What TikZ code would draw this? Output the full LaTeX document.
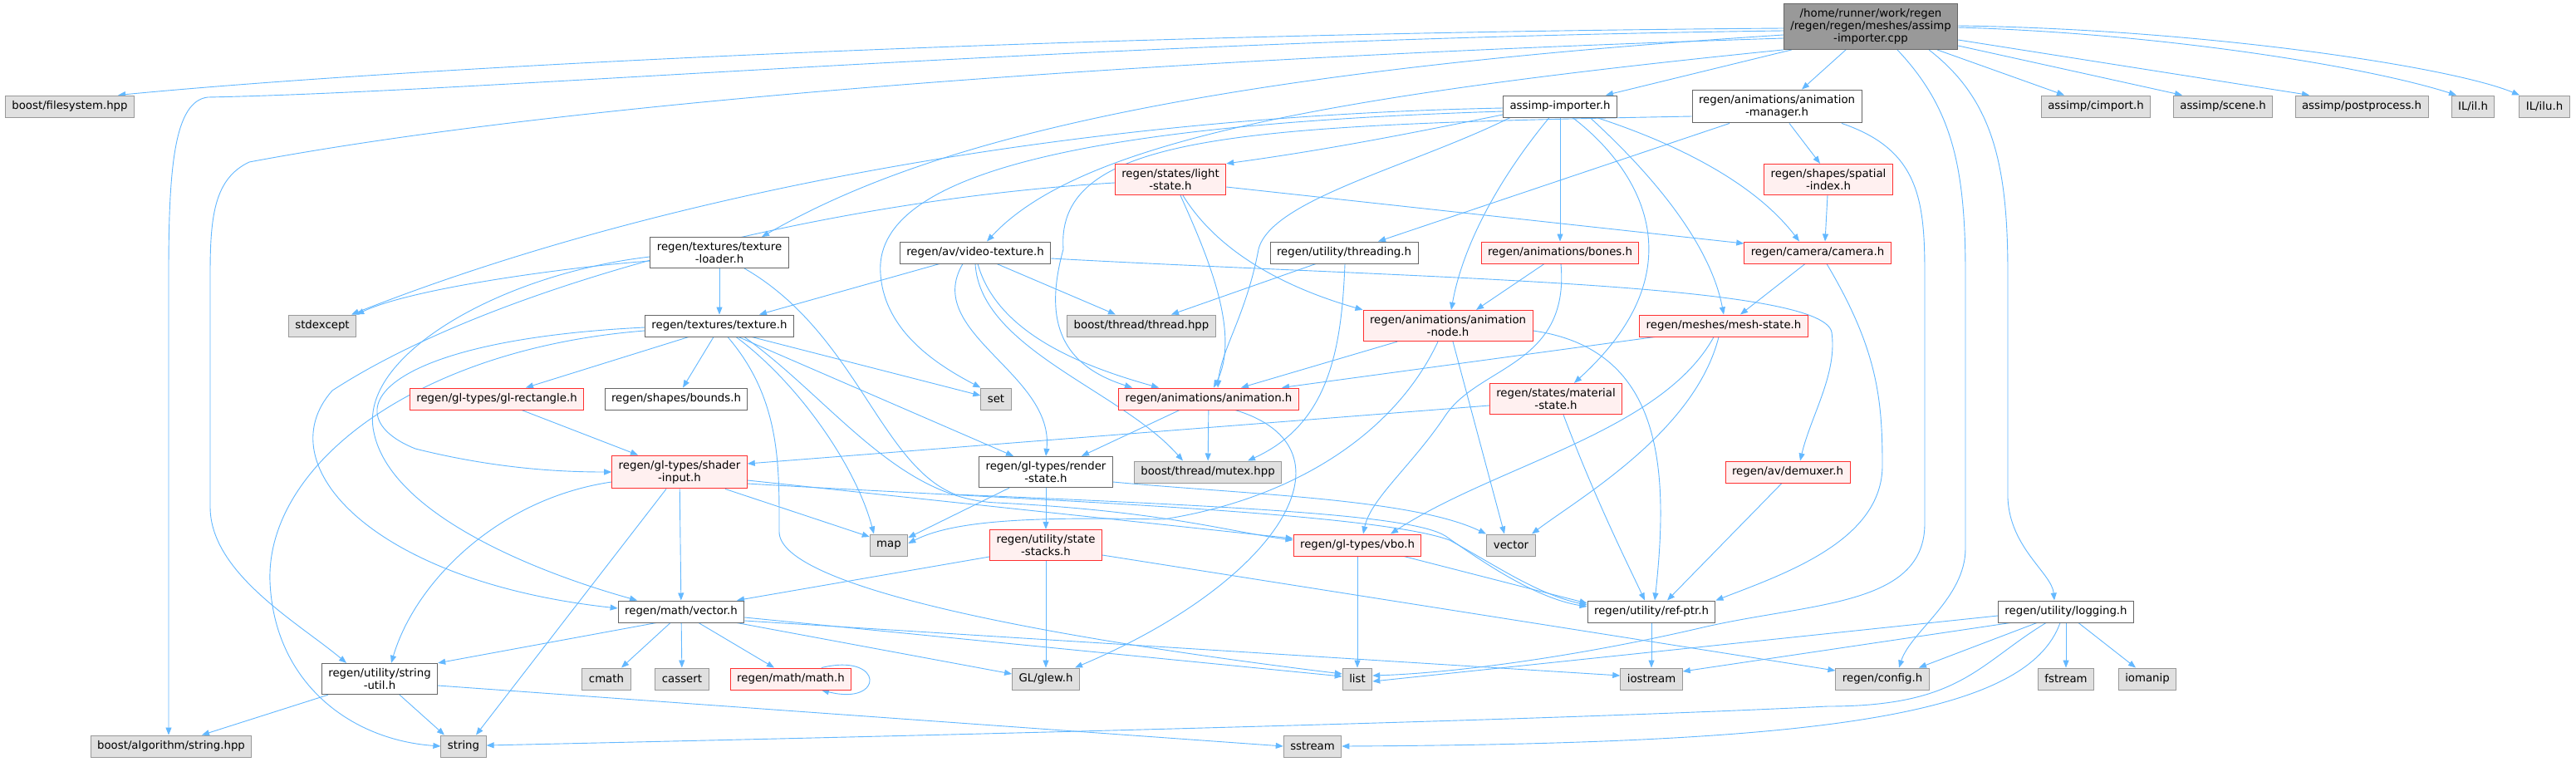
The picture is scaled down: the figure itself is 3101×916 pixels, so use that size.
\documentclass[tikz,border=0pt]{standalone}
\usepackage{fontspec}
\usetikzlibrary{arrows.meta,backgrounds}
\newfontfamily\graphfont{DejaVu Sans}
\definecolor{edgeblue}{HTML}{63B8FF}
\definecolor{boxgrey}{HTML}{666666}
\definecolor{sysfill}{HTML}{E0E0E0}
\definecolor{sysline}{HTML}{999999}
\definecolor{truncfill}{HTML}{FFF0F0}
\definecolor{truncline}{HTML}{FF3030}
\definecolor{rootfill}{HTML}{999999}
\newcommand{\graphtext}{\graphfont\fontsize{13.3}{15}\selectfont}

\begin{document}
\begin{tikzpicture}[x=1pt,y=-1pt,font=\graphtext,
  hbox/.style={draw=boxgrey,fill=white,line width=1pt,inner xsep=8pt,inner ysep=6pt,minimum height=26pt,align=center},
  sysbox/.style={hbox,draw=sysline,fill=sysfill},
  redbox/.style={hbox,draw=truncline,fill=truncfill},
  rootbox/.style={hbox,draw=boxgrey,fill=rootfill},
  dep/.style={draw=edgeblue,line width=0.9pt,-{Triangle[length=9pt,width=7pt]}}]
\useasboundingbox (0,0) rectangle (3101,916);
\node[rootbox] (cpp) at (2252,32) {/home/runner/work/regen\\/regen/regen/meshes/assimp\\-importer.cpp};
\node[sysbox] (fs) at (84,128) {boost/filesystem.hpp};
\node[hbox] (aimp) at (1878,128) {assimp-importer.h};
\node[hbox] (amgr) at (2139,128) {regen/animations/animation\\-manager.h};
\node[sysbox] (cimp) at (2523,128) {assimp/cimport.h};
\node[sysbox] (scene) at (2676,128) {assimp/scene.h};
\node[sysbox] (post) at (2843,128) {assimp/postprocess.h};
\node[sysbox] (il) at (2977,128) {IL/il.h};
\node[sysbox] (ilu) at (3063,128) {IL/ilu.h};
\node[redbox] (light) at (1409,216) {regen/states/light\\-state.h};
\node[redbox] (spatial) at (2201,216) {regen/shapes/spatial\\-index.h};
\node[hbox] (tload) at (866,304) {regen/textures/texture\\-loader.h};
\node[hbox] (vtex) at (1174,304) {regen/av/video-texture.h};
\node[hbox] (thr) at (1618,304) {regen/utility/threading.h};
\node[redbox] (bones) at (1878,304) {regen/animations/bones.h};
\node[redbox] (cam) at (2188,304) {regen/camera/camera.h};
\node[sysbox] (stdex) at (388,392) {stdexcept};
\node[hbox] (tex) at (866,392) {regen/textures/texture.h};
\node[sysbox] (bthr) at (1374,392) {boost/thread/thread.hpp};
\node[redbox] (anode) at (1743,392) {regen/animations/animation\\-node.h};
\node[redbox] (mesh) at (2075,392) {regen/meshes/mesh-state.h};
\node[redbox] (rect) at (598,480) {regen/gl-types/gl-rectangle.h};
\node[hbox] (bounds) at (814,480) {regen/shapes/bounds.h};
\node[sysbox] (set) at (1199,480) {set};
\node[redbox] (anim) at (1455,480) {regen/animations/animation.h};
\node[redbox] (mat) at (1873,480) {regen/states/material\\-state.h};
\node[redbox] (sin) at (818,568) {regen/gl-types/shader\\-input.h};
\node[hbox] (rs) at (1259,568) {regen/gl-types/render\\-state.h};
\node[sysbox] (mutex) at (1454,568) {boost/thread/mutex.hpp};
\node[redbox] (demux) at (2152,568) {regen/av/demuxer.h};
\node[sysbox] (map) at (1070,656) {map};
\node[redbox] (stack) at (1259,656) {regen/utility/state\\-stacks.h};
\node[redbox] (vbo) at (1634,656) {regen/gl-types/vbo.h};
\node[sysbox] (vec) at (1819,656) {vector};
\node[hbox] (vmath) at (820,736) {regen/math/vector.h};
\node[hbox] (ref) at (1988,736) {regen/utility/ref-ptr.h};
\node[hbox] (log) at (2487,736) {regen/utility/logging.h};
\node[hbox] (sutil) at (457,817) {regen/utility/string\\-util.h};
\node[sysbox] (cmath) at (730,817) {cmath};
\node[sysbox] (cassert) at (821,817) {cassert};
\node[redbox] (mathh) at (952,817) {regen/math/math.h};
\node[sysbox] (glew) at (1259,817) {GL/glew.h};
\node[sysbox] (list) at (1634,817) {list};
\node[sysbox] (iostr) at (1988,817) {iostream};
\node[sysbox] (conf) at (2266,817) {regen/config.h};
\node[sysbox] (fstr) at (2487,817) {fstream};
\node[sysbox] (ioman) at (2585,817) {iomanip};
\node[sysbox] (bas) at (206,898) {boost/algorithm/string.hpp};
\node[sysbox] (str) at (558,898) {string};
\node[sysbox] (sstr) at (1580,898) {sstream};
\begin{pgfonlayer}{background}
\fill[white] (0,0) rectangle (3101,916);
% includes of the source file
\draw[dep] ([yshift=-2pt]cpp.west) .. controls (1300,40) and (500,80) .. ([xshift=-20pt]fs.north east);
\draw[dep] ([yshift=-5pt]cpp.west) .. controls (1300,48) and (600,110) .. (250,117) .. controls (210,122) and (203,200) .. (203,330) -- ([xshift=-3pt]bas.north);
\draw[dep] ([yshift=-14pt]cpp.west) .. controls (1400,70) and (700,120) .. (300,195) .. controls (258,215) and (253,260) .. (253,330) -- (253,610) .. controls (253,690) and (360,750) .. ([xshift=-40pt]sutil.north);
\draw[dep] ([yshift=-10pt]cpp.west) .. controls (1400,90) and (1100,180) .. ([xshift=51pt]tload.north);
\draw[dep] (cpp.south west) .. controls (1600,115) and (1300,170) .. ([xshift=14pt]vtex.north);
\draw[dep] ([xshift=10pt]cpp.south west) -- ([xshift=55pt]aimp.north);
\draw[dep] ([xshift=-30pt]cpp.south) -- ([xshift=30pt]amgr.north);
\draw[dep] ([xshift=80pt]cpp.south) -- ([xshift=-38pt]cimp.north);
\draw[dep] ([yshift=-23pt]cpp.east) -- ([xshift=-49pt]scene.north);
\draw[dep] ([yshift=-16pt]cpp.east) -- ([xshift=-63pt]post.north);
\draw[dep] ([yshift=-1pt]cpp.east) .. controls (2600,40) and (2850,80) .. ([xshift=-20pt]il.north);
\draw[dep] ([yshift=1pt]cpp.east) .. controls (2650,35) and (2950,80) .. ([xshift=-30pt]ilu.north);
\draw[dep] ([xshift=32pt]cpp.south) .. controls (2350,130) and (2366,200) .. (2366,330) -- (2366,660) .. controls (2366,720) and (2300,760) .. ([xshift=20pt]conf.north);
\draw[dep] ([xshift=70pt]cpp.south) .. controls (2400,120) and (2417,200) .. (2417,330) -- (2417,600) .. controls (2420,660) and (2470,690) .. ([xshift=-14pt]log.north);
% assimp-importer.h
\draw[dep] ([yshift=-2pt]aimp.west) .. controls (1300,140) and (800,230) .. ([xshift=35pt]stdex.north);
\draw[dep] ([yshift=-6pt]aimp.west) .. controls (1300,150) and (1050,210) .. (1060,330) .. controls (1065,400) and (1130,440) .. (set.north west);
\draw[dep] ([yshift=-10pt]aimp.west) .. controls (1700,160) and (1600,180) .. (light.north east);
\draw[dep] ([xshift=-60pt]aimp.south) .. controls (1700,200) and (1530,240) .. (1515,300) .. controls (1500,380) and (1470,420) .. ([xshift=11pt]anim.north);
\draw[dep] ([xshift=-13pt]aimp.south) .. controls (1800,220) and (1760,300) .. ([xshift=4pt]anode.north);
\draw[dep] (aimp) -- (bones);
\draw[dep] ([xshift=15pt]aimp.south) .. controls (1970,200) and (2050,320) .. ([xshift=22pt]mat.north);
\draw[dep] ([xshift=36pt]aimp.south) .. controls (2000,220) and (2060,300) .. (mesh.north);
\draw[dep] ([xshift=44pt]aimp.south) .. controls (2040,180) and (2120,230) .. ([xshift=-22pt]cam.north);
% animation-manager.h
\draw[dep] ([xshift=-57pt]amgr.south) -- ([xshift=41pt]thr.north);
\draw[dep] ([xshift=15pt]amgr.south) -- ([xshift=-10pt]spatial.north);
\draw[dep] ([yshift=-12pt]amgr.west) .. controls (1500,150) and (1270,160) .. (1280,300) .. controls (1255,390) and (1280,440) .. ([xshift=-92pt]anim.north);
\draw[dep] ([xshift=78pt]amgr.south) .. controls (2310,180) and (2317,240) .. (2317,330) -- (2317,630) .. controls (2317,730) and (2180,725) .. (2050,755) .. controls (1900,790) and (1750,810) .. ([yshift=4pt]list.east);
% light-state.h
\draw[dep] ([yshift=-9pt]light.east) -- ([yshift=11pt]cam.west);
\draw[dep] ([yshift=-4pt]light.west) .. controls (1000,240) and (600,340) .. (400,470) .. controls (320,560) and (450,700) .. ([yshift=4pt]vmath.west);
\draw[dep] ([xshift=12pt]light.south) .. controls (1450,300) and (1495,400) .. ([xshift=6pt]anim.north);
\draw[dep] ([xshift=15pt]light.south) .. controls (1470,310) and (1560,350) .. (anode.north west);
\draw[dep] (spatial) -- ([xshift=9pt]cam.north);
% texture-loader.h
\draw[dep] (tload) -- (tex);
\draw[dep] ([yshift=-10pt]tload.west) .. controls (700,320) and (500,345) .. (stdex.north east);
\draw[dep] ([yshift=-5pt]tload.west) .. controls (600,330) and (430,430) .. (450,520) .. controls (470,620) and (650,690) .. ([xshift=-53pt]vmath.north);
\draw[dep] ([xshift=30pt]tload.south) .. controls (1030,400) and (1060,560) .. (1150,595) .. controls (1500,610) and (1700,620) .. (1740,645) .. controls (1790,680) and (1850,720) .. ([yshift=6pt]ref.west);
% video-texture.h
\draw[dep] ([xshift=-43pt]vtex.south) -- ([xshift=48pt]tex.north);
\draw[dep] ([xshift=-15pt]vtex.south) .. controls (1110,400) and (1270,450) .. (rs.north);
\draw[dep] (vtex.south) .. controls (1180,420) and (1350,470) .. ([xshift=-30pt]mutex.north);
\draw[dep] ([xshift=3pt]vtex.south) .. controls (1200,400) and (1300,440) .. ([xshift=-60pt]anim.north);
\draw[dep] ([xshift=26pt]vtex.south) -- ([xshift=-31pt]bthr.north);
\draw[dep] ([yshift=-7pt]vtex.east) .. controls (1700,335) and (2195,340) .. (2205,400) .. controls (2212,450) and (2180,500) .. ([xshift=15pt]demux.north);
% threading.h, bones.h, camera.h
\draw[dep] ([xshift=-34pt]thr.south) -- ([xshift=36pt]bthr.north);
\draw[dep] ([xshift=1pt]thr.south) .. controls (1615,420) and (1600,510) .. ([xshift=48pt]mutex.north);
\draw[dep] ([xshift=-19pt]bones.south) -- ([xshift=34pt]anode.north);
\draw[dep] ([xshift=1pt]bones.south) .. controls (1890,440) and (1780,440) .. (1740,500) .. controls (1700,560) and (1650,600) .. ([xshift=7pt]vbo.north);
\draw[dep] ([xshift=-15pt]cam.south) -- ([xshift=20pt]mesh.north);
\draw[dep] ([xshift=11pt]cam.south) .. controls (2260,420) and (2266,480) .. (2266,560) .. controls (2266,650) and (2150,690) .. (ref.north east);
% texture.h
\draw[dep] ([xshift=-37pt]tex.south) -- ([xshift=35pt]rect.north);
\draw[dep] ([xshift=-7pt]tex.south) -- ([xshift=8pt]bounds.north);
\draw[dep] ([yshift=-2pt]tex.west) .. controls (450,410) and (400,500) .. (500,540) .. controls (600,565) and (680,568) .. (sin.west);
\draw[dep] ([yshift=-6pt]tex.west) .. controls (500,420) and (320,560) .. (325,700) .. controls (330,820) and (420,890) .. (str.west);
\draw[dep] ([xshift=39pt]tex.south) -- ([yshift=4pt]set.west);
\draw[dep] ([xshift=23pt]tex.south) -- ([xshift=-39pt]rs.north);
\draw[dep] ([xshift=20pt]tex.south) .. controls (960,460) and (1030,560) .. ([xshift=-18pt]map.north);
\draw[dep] ([xshift=10pt]tex.south) .. controls (940,480) and (938,560) .. (938,640) .. controls (938,700) and (1200,760) .. ([yshift=6pt]list.west);
\draw[dep] ([xshift=30pt]tex.south) .. controls (1000,480) and (1080,600) .. (1200,605) .. controls (1400,615) and (1480,640) .. ([yshift=6pt]vbo.west);
\draw[dep] ([xshift=30pt]rect.south) -- ([xshift=-50pt]sin.north);
% shader-input.h
\draw[dep] ([yshift=-12pt]sin.west) .. controls (600,600) and (500,700) .. ([xshift=14pt]sutil.north);
\draw[dep] (sin) -- (vmath);
\draw[dep] ([xshift=-16pt]sin.south) -- ([xshift=15pt]str.north);
\draw[dep] ([xshift=55pt]sin.south) -- ([yshift=10pt]map.west);
\draw[dep] ([yshift=-10pt]sin.east) -- ([yshift=8pt]vbo.west);
\draw[dep] ([yshift=-14pt]sin.east) .. controls (1200,600) and (1650,615) .. (1745,650) .. controls (1800,680) and (1850,715) .. ([yshift=8pt]ref.west);
% render-state.h, animation.h
\draw[dep] ([xshift=-44pt]rs.south) -- ([yshift=9pt]map.east);
\draw[dep] (rs) -- (stack);
\draw[dep] ([yshift=-12pt]rs.east) .. controls (1500,595) and (1700,600) .. ([xshift=-30pt]vec.north);
\draw[dep] ([xshift=-35pt]anim.south) -- ([xshift=43pt]rs.north);
\draw[dep] (anim) -- (mutex);
\draw[dep] ([xshift=32pt]anim.south) .. controls (1640,540) and (1540,700) .. ([xshift=35pt]glew.north);
% animation-node.h, mesh-state.h, material-state.h
\draw[dep] ([xshift=-61pt]anode.south) -- ([xshift=39pt]anim.north);
\draw[dep] ([xshift=-12pt]anode.south) .. controls (1680,520) and (1560,600) .. (1400,625) .. controls (1250,622) and (1150,625) .. ([yshift=2pt]map.east);
\draw[dep] ([xshift=6pt]anode.south) -- ([xshift=-8pt]vec.north);
\draw[dep] ([yshift=-6pt]anode.east) .. controls (2000,420) and (2010,560) .. ([xshift=4pt]ref.north);
\draw[dep] ([xshift=-83pt]mesh.south) -- ([xshift=88pt]anim.north);
\draw[dep] ([xshift=-12pt]mesh.south) .. controls (2000,520) and (1800,560) .. ([xshift=40pt]vbo.north);
\draw[dep] ([xshift=-6pt]mesh.south) .. controls (2040,520) and (1900,600) .. ([xshift=25pt]vec.north);
\draw[dep] ([yshift=-8pt]mat.west) -- ([yshift=10pt]sin.east);
\draw[dep] ([xshift=9pt]mat.south) .. controls (1920,600) and (1960,680) .. ([xshift=-8pt]ref.north);
\draw[dep] ([xshift=-7pt]demux.south) -- ([xshift=19pt]ref.north);
% state-stacks.h, vbo.h, ref-ptr.h
\draw[dep] ([yshift=-14pt]stack.west) -- ([xshift=67pt]vmath.north);
\draw[dep] (stack) -- (glew);
\draw[dep] ([yshift=-12pt]stack.east) -- ([yshift=10pt]conf.west);
\draw[dep] (vbo) -- (list);
\draw[dep] ([xshift=56pt]vbo.south) -- ([yshift=10pt]ref.west);
\draw[dep] (ref) -- (iostr);
% vector.h
\draw[dep] ([xshift=-30pt]vmath.south) -- (sutil.north east);
\draw[dep] ([xshift=-13pt]vmath.south) -- ([xshift=18pt]cmath.north);
\draw[dep] (vmath) -- (cassert);
\draw[dep] ([xshift=21pt]vmath.south) -- ([xshift=-20pt]mathh.north);
\draw[dep] ([xshift=67pt]vmath.south) -- ([yshift=6pt]glew.west);
\draw[dep] ([yshift=-7pt]vmath.east) -- ([yshift=3pt]list.west);
\draw[dep] ([yshift=-11pt]vmath.east) -- ([yshift=4pt]iostr.west);
\draw[dep] ([xshift=37pt]mathh.north) .. controls (1065,785) and (1065,850) .. ([xshift=37pt]mathh.south);
% logging.h
\draw[dep] ([yshift=-5pt]log.west) -- ([yshift=-3pt]list.east);
\draw[dep] ([xshift=-67pt]log.south) -- ([yshift=9pt]iostr.east);
\draw[dep] ([xshift=-35pt]log.south) -- ([xshift=44pt]conf.north);
\draw[dep] (log) -- (fstr);
\draw[dep] ([xshift=15pt]log.south) -- ([xshift=-14pt]ioman.north);
\draw[dep] ([xshift=-24pt]log.south) .. controls (2380,800) and (2360,850) .. (2200,850) .. controls (1800,870) and (900,890) .. ([yshift=1pt]str.east);
\draw[dep] ([xshift=-7pt]log.south) .. controls (2440,860) and (2200,895) .. (sstr.east);
% string-util.h
\draw[dep] ([xshift=-62pt]sutil.south) -- ([xshift=37pt]bas.north);
\draw[dep] ([xshift=24pt]sutil.south) -- ([xshift=-23pt]str.north);
\draw[dep] ([yshift=-8pt]sutil.east) -- (sstr.west);
\end{pgfonlayer}
\end{tikzpicture}
\end{document}
